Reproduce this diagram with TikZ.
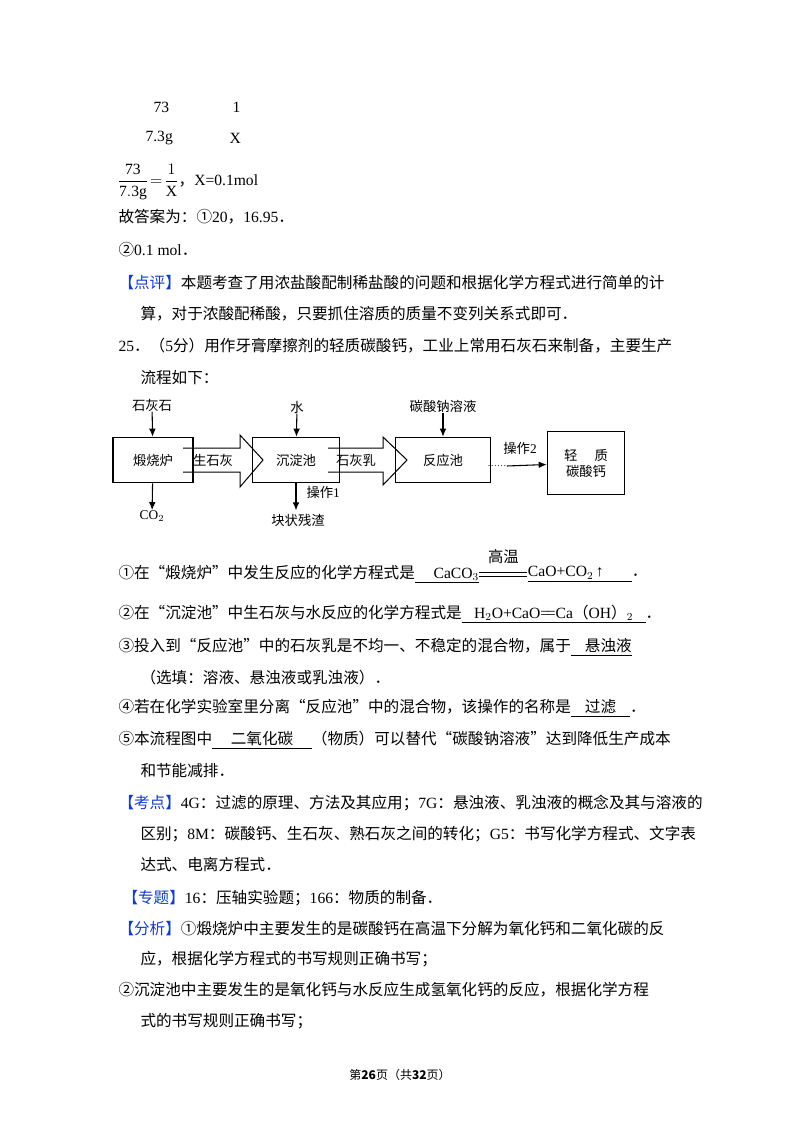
\documentclass[tikz,border=0pt]{standalone}
\usepackage{fontspec}
\setmainfont{Liberation Serif}
\newfontfamily\cjk{Noto Sans CJK SC}
\newcommand\latn{\rmfamily}
% switch to the CJK face for Chinese characters
\XeTeXinterchartokenstate=1
\newXeTeXintercharclass\cjkclass
\count255="4E00
\loop\XeTeXcharclass\count255=\cjkclass\advance\count255 by 1\ifnum\count255<"A000\repeat
\count255="FF00
\loop\XeTeXcharclass\count255=\cjkclass\advance\count255 by 1\ifnum\count255<"FF60\repeat
\count255="3000
\loop\XeTeXcharclass\count255=\cjkclass\advance\count255 by 1\ifnum\count255<"3040\repeat
\count255="2460
\loop\XeTeXcharclass\count255=\cjkclass\advance\count255 by 1\ifnum\count255<"2474\repeat
\XeTeXcharclass`“=\cjkclass
\XeTeXcharclass`”=\cjkclass
\XeTeXinterchartoks 0 \cjkclass={\cjk}
\XeTeXinterchartoks 4095 \cjkclass={\cjk}
\XeTeXinterchartoks \cjkclass 0={\latn}
\usetikzlibrary{positioning,arrows.meta}
\definecolor{tagblue}{RGB}{20,60,200}
\tikzset{every picture/.style={line width=0.75pt}}

\begin{document}
\begin{tikzpicture}[x=0.75pt,y=0.75pt,yscale=-1,xscale=1,
  txt/.style={anchor=west,inner sep=0pt,font=\fontsize{11.7}{14}\selectfont},
  fig/.style={inner sep=0pt,font=\fontsize{10}{12}\selectfont},
  unit/.style={draw,line width=1pt,minimum width=60,minimum height=34,inner sep=0pt,font=\fontsize{10}{12}\selectfont},
  flow/.style={-{Latex[length=6pt,width=5pt]},line width=0.8pt}]
\path (0,0) rectangle (800,1132);

% working
\node[txt] (n73) at (153,107) {73};
\node[txt] (n1) at (232,107) {1};
\node[txt] (m73) at (145,138) {7.3g};
\node[txt] (mX) at (229,138) {X};
\node[txt] (frac) at (117,182) {$\displaystyle\frac{\mathrm{73}}{\mathrm{7.3g}}\!=\!\frac{1}{\mathrm{X}}$，X=0.1mol};
\node[txt] (ans1) at (118,217) {故答案为：①20，16.95．};
\node[txt] (ans2) at (118,250) {②0.1 mol．};
\node[txt] (rev1) at (118,283) {\textcolor{tagblue}{【点评】}本题考查了用浓盐酸配制稀盐酸的问题和根据化学方程式进行简单的计};
\node[txt] (rev2) at (140,314) {算，对于浓酸配稀酸，只要抓住溶质的质量不变列关系式即可．};
\node[txt] (q25) at (118,346) {25．（5分）用作牙膏摩擦剂的轻质碳酸钙，工业上常用石灰石来制备，主要生产};
\node[txt] (q25b) at (140,378) {流程如下：};

% flow chart
\node[unit] (kiln) at (153,460) {煅烧炉};
\node[unit,minimum width=65] (tank) at (296,460) {沉淀池};
\node[unit,minimum width=71] (react) at (443,460) {反应池};
\node[unit,minimum width=58,minimum height=47,align=center] (prod) at (586,463) {轻\hspace{1.3em}质\\碳酸钙};
\node[fig] (stone) at (152,405) {石灰石};
\node[fig] (co2) at (152,516) {CO$_2$};
\node[fig] (water) at (297,407) {水};
\node[fig] (waste) at (298,520) {块状残渣};
\node[fig] (soda) at (443,406) {碳酸钠溶液};
\draw[flow] (stone) -- (kiln);
\draw[flow] (kiln) -- (co2);
\draw[flow] (water) -- (tank);
\draw[flow] (soda) -- (react);
\draw[flow] (tank.south) -- ++(0,27) coordinate (op1end);
\node[fig,anchor=west] (op1) at (306,492) {操作1};
\draw (183,448) -- (240,448) -- (240,435) -- (263,460) -- (240,487) -- (240,472) -- (183,472);
\node[fig] (quick) at (213,460) {生石灰};
\draw (328,448) -- (383,448) -- (383,437) -- (407,460) -- (383,485) -- (383,472) -- (328,472);
\node[fig] (milk) at (356,460) {石灰乳};
\node[fig,font=\fontsize{7}{8}\selectfont] (dots) at (497,466) {……};
\node[fig] (op2) at (520,448) {操作2};
\draw[flow] (dots.east) -- (prod);

% answers
\node[txt] (a1) at (118,574) {①在“煅烧炉”中发生反应的化学方程式是\underline{\latn\hspace{1.2em}CaCO$_3$}};
\coordinate[right=0pt of a1] (e1);
\draw[line width=0.6pt] ([yshift=-1.5]e1) -- ++(48,0) ([yshift=1.5]e1) -- ++(48,0);
\node[fig,font=\fontsize{11.5}{13}\selectfont] (hot) at ([shift={(24,-17)}]e1) {高温};
\node[txt] (a1b) at ([shift={(48,0)}]e1) {\underline{CaO+CO$_2$\,↑\hspace{1.8em}}．};
\node[txt] (a2) at (118,614) {②在“沉淀池”中生石灰与水反应的化学方程式是\underline{\latn\hspace{0.8em}H$_2$O+CaO=\kern-0.15em=Ca（OH）$_2$\hspace{0.8em}}．};
\node[txt] (a3) at (118,647) {③投入到“反应池”中的石灰乳是不均一、不稳定的混合物，属于\underline{\hspace{0.9em}悬浊液}};
\node[txt] (a3b) at (140,678) {（选填：溶液、悬浊液或乳浊液）．};
\node[txt] (a4) at (118,708) {④若在化学实验室里分离“反应池”中的混合物，该操作的名称是\underline{\hspace{0.9em}过滤\hspace{0.9em}}．};
\node[txt] (a5) at (118,740) {⑤本流程图中\underline{\hspace{1.2em}二氧化碳\hspace{1.2em}}（物质）可以替代“碳酸钠溶液”达到降低生产成本};
\node[txt] (a5b) at (140,771) {和节能减排．};
\node[txt] (kp1) at (118,803) {\textcolor{tagblue}{【考点】}4G：过滤的原理、方法及其应用；7G：悬浊液、乳浊液的概念及其与溶液的};
\node[txt] (kp2) at (140,834) {区别；8M：碳酸钙、生石灰、熟石灰之间的转化；G5：书写化学方程式、文字表};
\node[txt] (kp3) at (140,865) {达式、电离方程式．};
\node[txt] (topic) at (122,898) {\textcolor{tagblue}{【专题】}16：压轴实验题；166：物质的制备．};
\node[txt] (an1) at (118,929) {\textcolor{tagblue}{【分析】}①煅烧炉中主要发生的是碳酸钙在高温下分解为氧化钙和二氧化碳的反};
\node[txt] (an2) at (140,959) {应，根据化学方程式的书写规则正确书写；};
\node[txt] (an3) at (118,990) {②沉淀池中主要发生的是氧化钙与水反应生成氢氧化钙的反应，根据化学方程};
\node[txt] (an4) at (140,1021) {式的书写规则正确书写；};
\node[inner sep=0pt,font=\fontsize{9}{11}\selectfont] (foot) at (400,1075) {第\textbf{26}页（共\textbf{32}页）};
\end{tikzpicture}
\end{document}
